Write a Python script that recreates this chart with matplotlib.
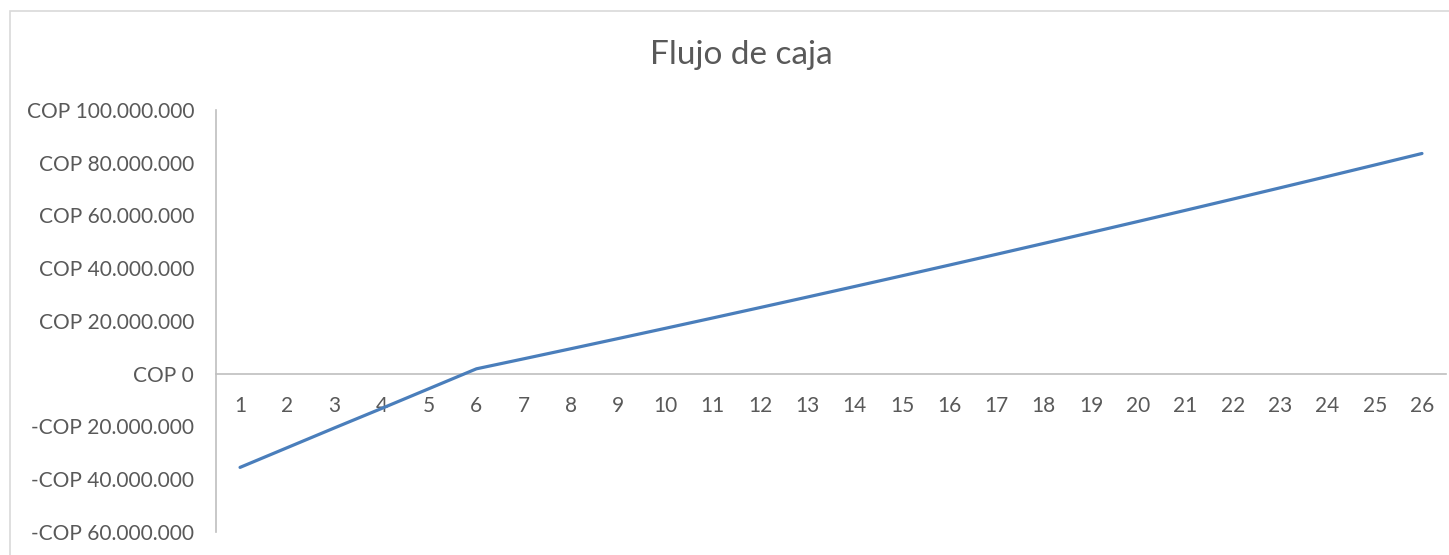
import matplotlib
matplotlib.use("Agg")
import matplotlib.pyplot as plt
from matplotlib.patches import Rectangle
from matplotlib.ticker import FuncFormatter

# Periods and accumulated cash flow (COP)
periodos = list(range(1, 27))
flujo = [
    -35_600_000, -28_100_000, -20_600_000, -13_200_000, -5_700_000,
    1_800_000, 5_600_000, 9_430_000, 13_290_000, 17_180_000,
    21_100_000, 25_050_000, 29_030_000, 33_040_000, 37_080_000,
    41_150_000, 45_250_000, 49_380_000, 53_540_000, 57_730_000,
    61_950_000, 66_200_000, 70_480_000, 74_790_000, 79_130_000,
    83_500_000,
]
titulo = "Flujo de caja"
y_ticks = [-60_000_000, -40_000_000, -20_000_000, 0, 20_000_000,
           40_000_000, 60_000_000, 80_000_000, 100_000_000]

W, H = 1449, 555
plt.rcParams['font.family'] = ['Lato', 'DejaVu Sans']
fig = plt.figure(figsize=(W / 100, H / 100), dpi=100)

text_color = "#595959"
axis_color = "#bfbfbf"

# chart area border
fig.patches.append(Rectangle((10 / W, -0.1), 1.2, 1 - 11 / H + 0.1,
                             transform=fig.transFigure, fill=False,
                             edgecolor="#d9d9d9", linewidth=1.2))

ax = fig.add_axes([216.4 / W, 1 - 531.7 / H, (1445.6 - 216.4) / W, (531.7 - 110) / H])
ax.set_xlim(0.5, 26.5)
ax.set_ylim(-60_000_000, 100_000_000)

ax.plot(periodos, flujo, color="#4a7ebb", linewidth=2.3, solid_capstyle="round", zorder=3)


def cop(v, _pos=None):
    v = int(round(v))
    s = f"{abs(v):,}".replace(",", ".")
    return ("-" if v < 0 else "") + "COP " + s


ax.set_yticks(y_ticks)
ax.yaxis.set_major_formatter(FuncFormatter(cop))
ax.tick_params(axis="y", length=0, pad=16, labelsize=15, labelcolor=text_color)

ax.set_xticks(periodos)
ax.set_xticklabels([str(p) for p in periodos])
ax.tick_params(axis="x", length=0, pad=16, labelsize=15, labelcolor=text_color)

for s in ("top", "right"):
    ax.spines[s].set_visible(False)
ax.spines["bottom"].set_position(("data", 0))
ax.spines["bottom"].set_color(axis_color)
ax.spines["bottom"].set_linewidth(1.2)
ax.spines["left"].set_color(axis_color)
ax.spines["left"].set_linewidth(1.2)

fig.text(741 / W, 1 - 55 / H, titulo, ha="center", va="center",
         fontsize=24, color=text_color)

fig.savefig("out.png", dpi=100)
